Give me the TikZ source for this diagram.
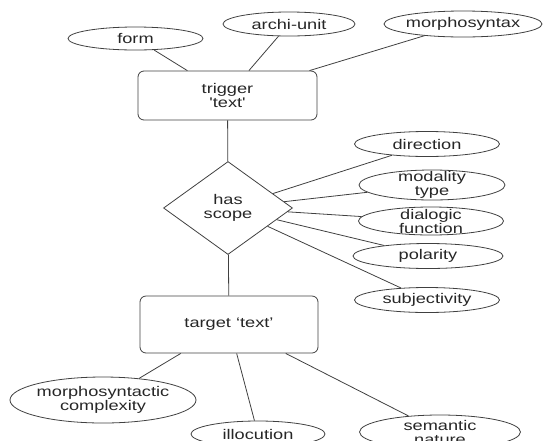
\documentclass[tikz,border=0pt]{standalone}
\usepackage{fontspec}
\usetikzlibrary{shapes.geometric}
\newfontfamily\diagfont[FakeStretch=1.3,Ligatures=TeXOff]{Liberation Sans}
\begin{document}
\begin{tikzpicture}[x=1pt,y=-1pt,
  every node/.style={font=\diagfont\fontsize{14pt}{14pt}\selectfont, text=black!85},
  attr/.style={ellipse, draw=black!75, line width=0.8pt, inner sep=0pt},
  entbox/.style={draw=black!75, line width=0.8pt, rounded corners=6pt, inner sep=0pt},
  rel/.style={diamond, draw=black!75, line width=0.8pt, inner sep=0pt},
  txt/.style={align=center, inner sep=0pt},
  link/.style={draw=black!75, line width=0.8pt}]
  \useasboundingbox (0,0) rectangle (543,440);
  \clip (0,0) rectangle (543,440);

  % entities
  \node[entbox, minimum width=179pt, minimum height=49pt] (trig) at (227.5,95.5) {};
  \node[txt] (trigT) at (trig.center) {trigger\\'text'};
  \node[entbox, minimum width=178pt, minimum height=57pt] (targ) at (229,324.5) {};
  \node[txt] (targT) at (targ.center) {target ‘text’};

  % relation
  \node[rel, minimum width=129pt, minimum height=93pt] (scope) at (228,208) {};
  \node[txt] (scopeT) at (scope.center) {has\\scope};

  % attributes of the trigger
  \node[attr, minimum width=135pt, minimum height=23pt] (form) at (135.5,38.5) {};
  \node[txt] (formT) at (form.center) {form};
  \node[attr, minimum width=132pt, minimum height=24pt] (archi) at (289,24) {};
  \node[txt] (archiT) at (archi.center) {archi-unit};
  \node[attr, minimum width=158pt, minimum height=26pt] (msyn) at (463,24) {};
  \node[txt] (msynT) at (msyn.center) {morphosyntax};

  % attributes of the relation
  \node[attr, minimum width=145pt, minimum height=25pt] (dir) at (427,144) {};
  \node[txt] (dirT) at (dir.center) {direction};
  \node[attr, minimum width=146pt, minimum height=30pt] (mod) at (432,185) {};
  \node[txt] (modT) at (mod.center) {modality\\type};
  \node[attr, minimum width=145pt, minimum height=28pt] (dia) at (431,221) {};
  \node[txt] (diaT) at (dia.center) {dialogic\\function};
  \node[attr, minimum width=150pt, minimum height=25pt] (pol) at (428,256) {};
  \node[txt] (polT) at (pol.center) {polarity};
  \node[attr, minimum width=145pt, minimum height=25pt] (subj) at (427,300) {};
  \node[txt] (subjT) at (subj.center) {subjectivity};

  % attributes of the target
  \node[attr, minimum width=186pt, minimum height=46pt] (mcx) at (103,400) {};
  \node[txt] (mcxT) at (mcx.center) {morphosyntactic\\complexity};
  \node[attr, minimum width=134pt, minimum height=26pt] (ill) at (258,434) {};
  \node[txt] (illT) at (ill.center) {illocution};
  \node[attr, minimum width=161pt, minimum height=34pt] (sem) at (440,432) {};
  \node[txt] (semT) at (sem.center) {semantic\\nature};

  % connectors
  \draw[link] (form) -- (trig);
  \draw[link] (archi) -- (trig);
  \draw[link] (msyn) -- (trig);
  \draw[link] (trig) -- (scope);
  \draw[link] (scope) -- (targ);
  \foreach \a in {dir,mod,dia,pol,subj} \draw[link] (scope) -- (\a);
  \draw[link] (targ) -- (mcx);
  \draw[link] (targ) -- (ill);
  \draw[link] (targ) -- (sem);
\end{tikzpicture}
\end{document}
